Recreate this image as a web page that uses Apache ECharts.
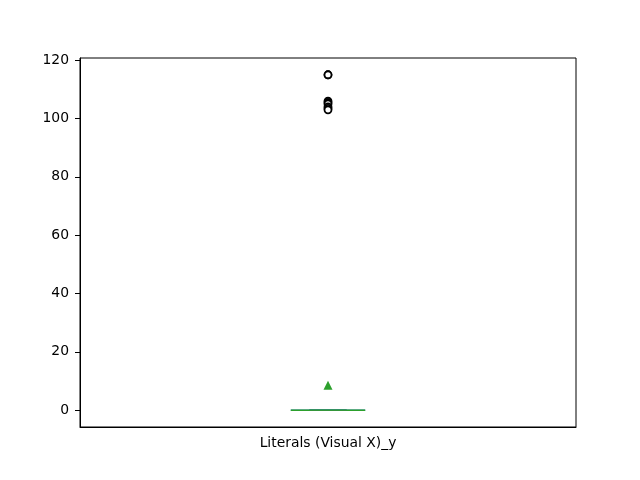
<!DOCTYPE html>
<html>
<head>
<meta charset="utf-8">
<script src="https://cdn.jsdelivr.net/npm/echarts@6/dist/echarts.min.js"></script>
<style>html,body{margin:0;padding:0;background:#fff;}#c{width:640px;height:480px;}</style>
</head>
<body>
<div id="c"></div>
<script>
const categories = ['Literals (Visual X)_y'];
// [category index, whisker low, Q1, median, Q3, whisker high]
const boxStats = [[0, 0, 0, 0, 0, 0]];
const fliers = [115, 115, 106, 105.5, 105, 104, 103.5, 103];
const means = [8.6];
const yTicks = [0, 20, 40, 60, 80, 100, 120];

const font = 'DejaVu Sans';
const chart = echarts.init(document.getElementById('c'));

function renderBox(params, api) {
  const x = api.value(0);
  const lo = api.coord([x, api.value(1)]);
  const q1 = api.coord([x, api.value(2)]);
  const med = api.coord([x, api.value(3)]);
  const q3 = api.coord([x, api.value(4)]);
  const hi = api.coord([x, api.value(5)]);
  const band = api.size([1, 0])[0];
  const bw = band * 0.15;
  const cx = med[0];
  const blue = '#1f77b4', green = '#2ca02c';
  const children = [
    { type: 'line', shape: { x1: cx, y1: q1[1], x2: cx, y2: lo[1] }, style: { stroke: blue, lineWidth: 1.4 } },
    { type: 'line', shape: { x1: cx, y1: q3[1], x2: cx, y2: hi[1] }, style: { stroke: blue, lineWidth: 1.4 } },
    { type: 'line', shape: { x1: cx - bw / 4, y1: lo[1], x2: cx + bw / 4, y2: lo[1] }, style: { stroke: blue, lineWidth: 1.4 } },
    { type: 'line', shape: { x1: cx - bw / 4, y1: hi[1], x2: cx + bw / 4, y2: hi[1] }, style: { stroke: blue, lineWidth: 1.4 } },
    { type: 'rect', shape: { x: cx - bw / 2, y: q3[1], width: bw, height: q1[1] - q3[1] }, style: { fill: 'none', stroke: blue, lineWidth: 1.4 } },
    { type: 'line', shape: { x1: cx - bw / 2, y1: med[1], x2: cx + bw / 2, y2: med[1] }, style: { stroke: green, lineWidth: 1.4 } },
    { type: 'line', shape: { x1: cx - bw / 4, y1: med[1], x2: cx + bw / 4, y2: med[1] }, style: { stroke: '#3a8f45', lineWidth: 1.6, opacity: 0.6 } }
  ];
  return { type: 'group', children };
}

chart.setOption({
  animation: false,
  grid: { left: 80, right: 64, top: 58, bottom: 53, show: true, borderColor: '#000', borderWidth: 1, backgroundColor: 'transparent' },
  xAxis: {
    type: 'category',
    data: categories,
    boundaryGap: true,
    axisLine: { onZero: false, lineStyle: { color: '#000', width: 1 } },
    axisTick: { alignWithLabel: true, length: 5, lineStyle: { color: '#000' } },
    axisLabel: { color: '#000', fontFamily: font, fontSize: 13.9, margin: 9 },
    splitLine: { show: false }
  },
  yAxis: {
    type: 'value',
    min: -5.75,
    max: 120.75,
    axisLine: { show: true, onZero: false, lineStyle: { color: '#000', width: 1 } },
    axisTick: { show: true, length: 5, lineStyle: { color: '#000' }, customValues: yTicks },
    axisLabel: { color: '#000', fontFamily: font, fontSize: 13.9, margin: 11, customValues: yTicks },
    splitLine: { show: false }
  },
  series: [
    {
      type: 'custom',
      renderItem: renderBox,
      data: boxStats,
      encode: { x: 0, y: [1, 2, 3, 4, 5] },
      z: 2
    },
    {
      type: 'scatter',
      data: fliers.map(v => [0, v]),
      symbol: 'circle',
      symbolSize: 7,
      itemStyle: { color: '#fff', borderColor: '#000', borderWidth: 1.8, opacity: 1 },
      z: 5
    },
    {
      type: 'scatter',
      data: means.map(v => [0, v]),
      symbol: 'triangle',
      symbolSize: 9,
      itemStyle: { color: '#2ca02c', opacity: 1 },
      z: 6
    }
  ]
});
</script>
</body>
</html>
